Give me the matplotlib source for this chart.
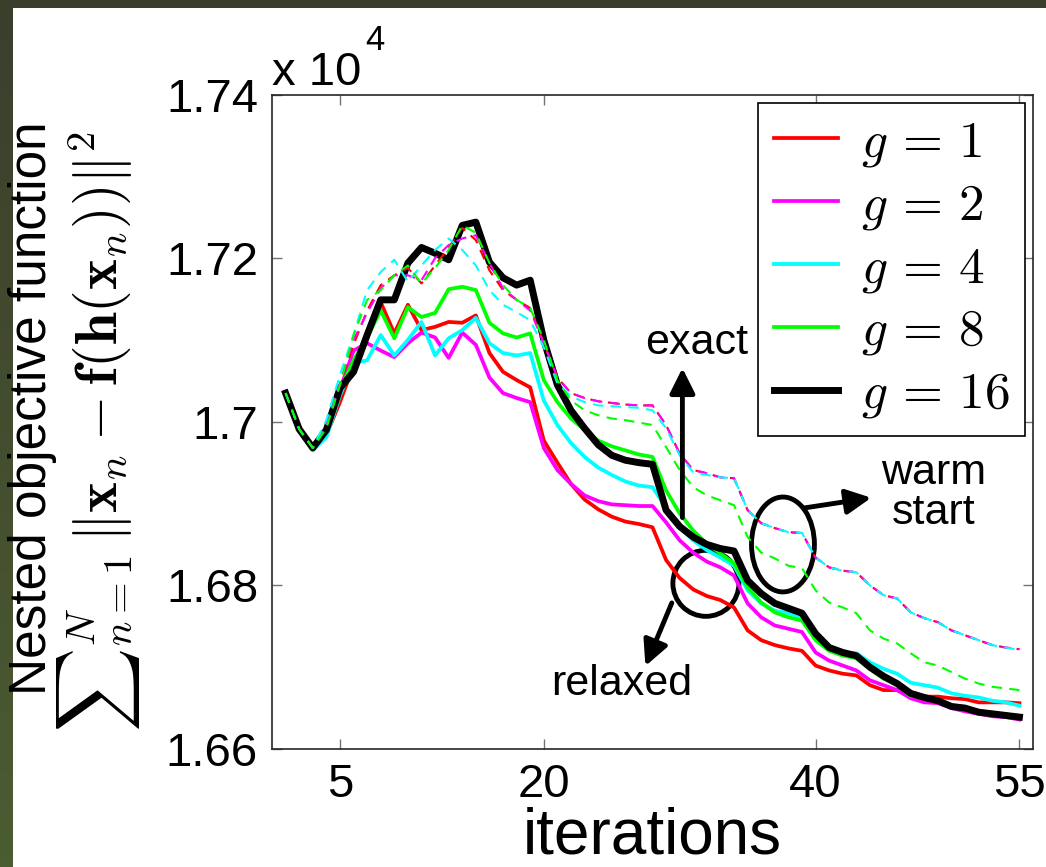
import numpy as np
import matplotlib
matplotlib.use("Agg")
import matplotlib.pyplot as plt
from matplotlib.patches import Ellipse
from matplotlib.ticker import FixedLocator, FixedFormatter

plt.rcParams["font.family"] = ["Liberation Sans", "DejaVu Sans"]
plt.rcParams["mathtext.fontset"] = "cm"

# iterations 1..55, objective values (real units, plotted in x 10^4)
iterations = np.arange(1, 56)

# solid lines: exact / relaxed runs
g1 = [17035, 16991, 16968, 16984, 17024, 17069, 17108, 17146, 17108, 17143,
      17112, 17116, 17122, 17121, 17130, 17084, 17061, 17051, 17042, 16977,
      16950, 16924, 16905, 16893, 16884, 16878, 16875, 16871, 16831, 16809,
      16795, 16787, 16782, 16773, 16745, 16733, 16727, 16723, 16720, 16702,
      16696, 16692, 16690, 16678, 16672, 16672, 16665, 16664, 16664, 16662,
      16661, 16657, 16657, 16657, 16656]
g2 = [17035, 16991, 16968, 16987, 17039, 17087, 17096, 17087, 17079, 17096,
      17109, 17103, 17078, 17109, 17094, 17054, 17035, 17029, 17024, 16968,
      16941, 16924, 16910, 16903, 16899, 16898, 16897, 16897, 16877, 16855,
      16840, 16829, 16822, 16812, 16778, 16761, 16751, 16747, 16743, 16718,
      16708, 16702, 16696, 16684, 16678, 16672, 16662, 16657, 16656, 16650,
      16646, 16643, 16640, 16639, 16636]
g4 = [17035, 16991, 16965, 16981, 17032, 17072, 17075, 17106, 17081, 17100,
      17122, 17081, 17102, 17112, 17127, 17096, 17084, 17081, 17084, 17026,
      16996, 16974, 16957, 16944, 16935, 16927, 16922, 16920, 16895, 16871,
      16855, 16843, 16834, 16824, 16794, 16778, 16769, 16766, 16761, 16736,
      16724, 16718, 16717, 16706, 16698, 16692, 16681, 16678, 16675, 16668,
      16665, 16663, 16659, 16657, 16653]
g8 = [17035, 16991, 16968, 16987, 17039, 17075, 17103, 17136, 17102, 17140,
      17128, 17133, 17162, 17165, 17161, 17121, 17108, 17103, 17108, 17051,
      17024, 17004, 16990, 16977, 16970, 16965, 16960, 16957, 16916, 16888,
      16867, 16851, 16839, 16827, 16798, 16779, 16767, 16761, 16757, 16733,
      16720, 16714, 16711, 16698, 16686, 16678, 16665, 16663, 16659, 16652,
      16650, 16645, 16643, 16641, 16640]
g16 = [17035, 16991, 16968, 16990, 17041, 17061, 17106, 17149, 17149, 17194,
       17213, 17206, 17198, 17240, 17244, 17195, 17176, 17167, 17173, 17100,
       17045, 17014, 16992, 16972, 16959, 16953, 16950, 16948, 16892, 16872,
       16859, 16850, 16845, 16842, 16806, 16790, 16778, 16772, 16766, 16741,
       16724, 16718, 16714, 16700, 16689, 16680, 16668, 16663, 16659, 16652,
       16650, 16645, 16643, 16641, 16639]

# dashed lines: warm start runs
g1_ws = [17035, 16991, 16968, 16996, 17045, 17094, 17136, 17167, 17179, 17188,
         17169, 17191, 17213, 17237, 17222, 17185, 17161, 17149, 17139, 17096,
         17054, 17035, 17029, 17025, 17023, 17021, 17020, 17020, 16996, 16961,
         16941, 16937, 16932, 16931, 16892, 16876, 16870, 16865, 16864, 16834,
         16822, 16818, 16816, 16800, 16788, 16784, 16767, 16760, 16755, 16745,
         16739, 16733, 16727, 16724, 16722]
g2_ws = [17035, 16991, 16968, 16996, 17047, 17100, 17133, 17163, 17179, 17179,
         17173, 17200, 17216, 17224, 17228, 17194, 17163, 17149, 17136, 17096,
         17054, 17035, 17029, 17025, 17023, 17021, 17020, 17020, 16996, 16961,
         16941, 16937, 16932, 16931, 16892, 16876, 16870, 16865, 16864, 16834,
         16822, 16818, 16816, 16800, 16788, 16784, 16767, 16760, 16755, 16745,
         16739, 16733, 16727, 16724, 16722]
g4_ws = [17035, 16991, 16968, 17002, 17057, 17106, 17161, 17183, 17198, 17171,
         17191, 17210, 17224, 17210, 17191, 17161, 17143, 17134, 17124, 17091,
         17047, 17031, 17024, 17020, 17019, 17018, 17017, 17014, 16992, 16959,
         16938, 16935, 16932, 16931, 16892, 16876, 16870, 16865, 16864, 16834,
         16822, 16818, 16816, 16800, 16788, 16784, 16767, 16760, 16755, 16745,
         16739, 16733, 16727, 16724, 16721]
g8_ws = [17035, 16991, 16968, 16992, 17045, 17106, 17149, 17161, 17179, 17191,
         17169, 17188, 17210, 17240, 17231, 17194, 17167, 17149, 17139, 17100,
         17051, 17026, 17014, 17008, 17004, 17002, 16999, 16996, 16969, 16941,
         16920, 16910, 16904, 16898, 16859, 16840, 16833, 16824, 16821, 16794,
         16779, 16773, 16766, 16745, 16735, 16729, 16717, 16706, 16702, 16694,
         16686, 16680, 16676, 16674, 16672]

labels = [r"$g\,=\,1$", r"$g\,=\,2$", r"$g\,=\,4$", r"$g\,=\,8$", r"$g\,=\,16$"]
colors = ["#ff0000", "#ff00ff", "#00ffff", "#00ff00", "#000000"]

fig = plt.figure(figsize=(10.46, 8.67), dpi=100)

# slide background strips (top and left)
bg = fig.add_axes([0, 0, 13 / 1046, 1])
grad = np.linspace(0, 1, 100).reshape(-1, 1)
top_c = np.array([58, 63, 44]) / 255
bot_c = np.array([76, 92, 50]) / 255
bg.imshow(top_c + grad[:, :, None] * (bot_c - top_c), aspect="auto",
          extent=[0, 1, 0, 1], origin="upper")
bg.axis("off")
topbar = fig.add_axes([0, 1 - 8 / 867, 1, 8 / 867])
topbar.set_facecolor(top_c)
topbar.set_xticks([])
topbar.set_yticks([])
for s in topbar.spines.values():
    s.set_visible(False)

ax = fig.add_axes([272 / 1046, 1 - 749 / 867, 761 / 1046, 654.5 / 867])

solid = [g1, g2, g4, g8, g16]
dashed = [g1_ws, g2_ws, g4_ws, g8_ws]
handles = []
for vals, c, lab in zip(solid, colors, labels):
    lw = 5.0 if c == "#000000" else 2.7
    h, = ax.plot(iterations, np.array(vals) / 1e4, color=c, lw=lw, label=lab)
    handles.append(h)
for vals, c in zip(dashed, colors):
    ax.plot(iterations, np.array(vals) / 1e4, color=c, lw=1.5, ls=(0, (5, 3.5)))

ax.set_xlim(0, 56)
ax.set_ylim(1.66, 1.74)
ax.xaxis.set_major_locator(FixedLocator([5, 20, 40, 55]))
ax.yaxis.set_major_locator(FixedLocator([1.66, 1.68, 1.70, 1.72, 1.74]))
ax.yaxis.set_major_formatter(FixedFormatter(["1.66", "1.68", "1.7", "1.72", "1.74"]))
ax.tick_params(direction="in", top=True, right=True, length=7, width=1,
               color="0.45", labelsize=34, pad=10)
for s in ax.spines.values():
    s.set_linewidth(1.2)
    s.set_color("0.15")

fig.text(652 / 1046, 1 - 866 / 867, "iterations", fontsize=46,
         ha="center", va="bottom")

fig.text(272 / 1046, 1 - 85 / 867, "x 10", fontsize=34, va="baseline", ha="left")
fig.text(365 / 1046, 1 - 50 / 867, "4", fontsize=25, va="baseline", ha="left")

fig.text(33 / 1046, 1 - 408 / 867, "Nested objective function", rotation=90,
         fontsize=37, ha="center", va="center")
fig.text(98 / 1046, 1 - 432 / 867,
         r"${\sum}_{n=1}^{N}\,\|\mathbf{x}_n-\mathbf{f}(\mathbf{h}(\mathbf{x}_n))\|^2$",
         rotation=90, fontsize=42, ha="center", va="center")

leg = ax.legend(handles=handles, loc="upper right", bbox_to_anchor=(0.9895, 0.987),
                borderaxespad=0, fontsize=37, handlelength=1.25, handletextpad=0.45,
                labelspacing=0.24, borderpad=0.3, fancybox=False, framealpha=1,
                edgecolor="black")
leg.get_frame().set_linewidth(1.2)

# annotations
ax.annotate("", xy=(30.2, 1.7069), xytext=(30.2, 1.68795),
            arrowprops=dict(arrowstyle="-|>", lw=3.5, color="k", mutation_scale=38))
ax.text(31.25, 1.7096, "exact", fontsize=31, ha="center", va="center")

ax.add_patch(Ellipse((31.93, 1.68025), 4.86, 0.00807, fill=False, lw=3.5, ec="k"))
ax.annotate("", xy=(27.4, 1.66983), xytext=(29.5, 1.67817),
            arrowprops=dict(arrowstyle="-|>", lw=3.5, color="k", mutation_scale=38))
ax.text(25.7, 1.6680, "relaxed", fontsize=31, ha="center", va="center")

ax.add_patch(Ellipse((37.6, 1.6850), 4.63, 0.0116, fill=False, lw=3.5, ec="k"))
ax.annotate("", xy=(44.3, 1.69076), xytext=(39.0, 1.68942),
            arrowprops=dict(arrowstyle="-|>", lw=3.5, color="k", mutation_scale=38))
ax.text(48.7, 1.6913, "warm\nstart", fontsize=31, ha="center", va="center",
        linespacing=1.0)

fig.savefig("out.png", dpi=100, facecolor="white")
